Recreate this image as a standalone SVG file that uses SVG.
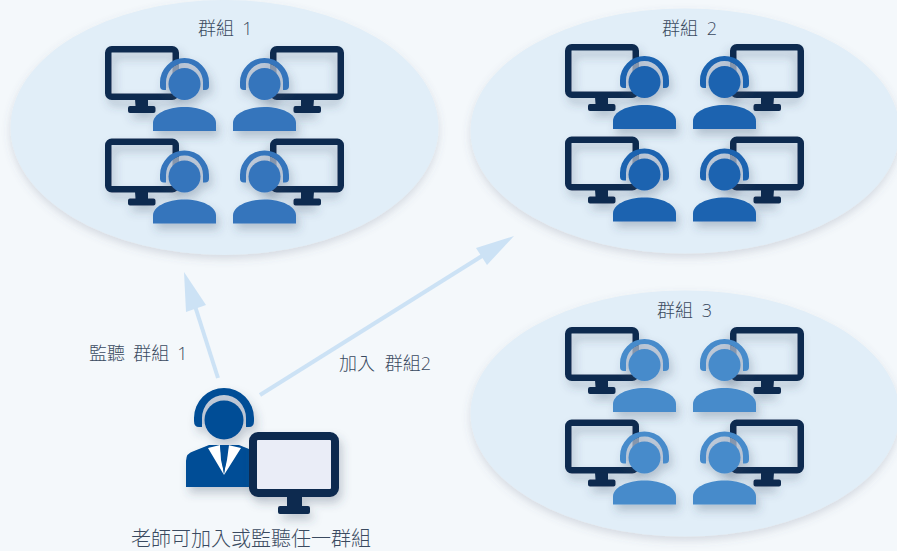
<svg xmlns="http://www.w3.org/2000/svg" width="897" height="551" viewBox="0 0 897 551">
<style>
text{font-family:"Open Sans","Noto Sans CJK TC","Noto Sans CJK SC",sans-serif;font-size:18px;font-weight:300;fill:#3a4a60;word-spacing:3.500px}
.g{fill:#e1eef8;filter:url(#se)}
.mon{fill:none;stroke:#0f2a4f;stroke-width:6.500}
.monf{fill:#0f2a4f}
.arrow{stroke:#cce2f5;stroke-width:4;fill:none}
.head{fill:#cce2f5}
.gap{fill:#b4bfd0;fill-opacity:.7}
</style>
<defs>
<filter id="se" x="-10%" y="-10%" width="120%" height="125%"><feDropShadow dx="0" dy="4" stdDeviation="4" flood-color="#5a6478" flood-opacity=".2"/></filter>
<filter id="s" x="-30%" y="-30%" width="170%" height="170%"><feDropShadow dx="3" dy="6" stdDeviation="5" flood-color="#3c4a66" flood-opacity=".28"/></filter>
<g id="monitor">
<rect class="mon" x="108.250" y="49.250" width="67.500" height="47.500" rx="3.500"/>
<path class="monf" d="M135 99h13v7h5.500q2 0 2 2v3q0 2-2 2h-23.500q-2 0-2-2v-3q0-2 2-2h5.500z"/>
</g>
<g id="person">
<path class="gap" d="M165 88v-5.500a19.500 19.500 0 0 1 39 0v5.500z"/>
<path d="M160 84v-1.500a24.500 24.500 0 0 1 49 0v3.500q0 4-4 4h-2v-7.500a18.500 19.500 0 0 0-37 0v7.500h-2q-4 0-4-4z"/>
<circle cx="184.500" cy="84" r="16"/>
<path d="M153 131v-8c0-9 14-16 31.500-16s31.500 7 31.500 16v8z"/>
</g>
<g id="unit">
<use href="#monitor" filter="url(#s)"/>
<use href="#monitor" transform="matrix(-1 0 0 1 449 0)" filter="url(#s)"/>
<use href="#person" filter="url(#s)"/>
<use href="#person" transform="translate(80 0)" filter="url(#s)"/>
</g>
</defs>
<rect width="897" height="551" fill="#f4f8fb"/>

<g id="group-1">
<ellipse class="g" cx="224.500" cy="127.500" rx="214" ry="127.500"/>
<text x="198" y="35">群組 1</text>
<use href="#unit" fill="#3474bc"/>
<use href="#unit" fill="#3474bc" y="92.500"/>
</g>
<g id="group-2">
<ellipse class="g" cx="685" cy="131" rx="214.500" ry="122.500"/>
<text x="662" y="35" style="word-spacing:4px">群組 2</text>
<use href="#unit" fill="#1b63b0" x="460" y="-2"/>
<use href="#unit" fill="#1b63b0" x="460" y="90.500"/>
</g>
<g id="group-3">
<ellipse class="g" cx="685" cy="413.500" rx="214.500" ry="123"/>
<text x="657" y="317" style="word-spacing:4px">群組 3</text>
<use href="#unit" fill="#478bcb" x="460" y="281"/>
<use href="#unit" fill="#478bcb" x="460" y="373.500"/>
</g>

<g id="connectors">
<path class="arrow" d="M218 378L195 306"/>
<polygon class="head" points="184,272 206,305 186,312"/>
<path class="arrow" d="M260 395L482 256"/>
<polygon class="head" points="514,236 476,248 487,265"/>
</g>
<g id="labels">
<text x="89" y="360">監聽 群組 1</text>
<text x="339" y="370" style="word-spacing:5px">加入 群組2</text>
</g>

<g id="teacher">
<g fill="#024e96" filter="url(#s)">
<path class="gap" d="M201 424v-6a23 23 0 0 1 46 0v6z"/>
<path d="M194 420v-2a30 30 0 0 1 60 0v3q0 6-5 6h-3v-9a22 23 0 0 0-44 0v9h-3q-5 0-5-6z"/>
<circle cx="224" cy="420" r="19.500"/>
<path d="M186 487v-26q0-8 8-10l15-6h30l15 6q8 2 8 10v26z"/>
<path fill="#fff" d="M208 448l12-3 4 30 4-30 13 3-17 27z"/>
<path d="M220 445h9l-2 15 -3 13 -3-13z"/>
</g>
<g filter="url(#s)">
<rect x="253" y="436" width="82" height="57" rx="5" fill="#eaedf7" stroke="#0f2a4f" stroke-width="8"/>
<path fill="#0f2a4f" d="M287 497h15v9h6q2 0 2 2v4q0 2-2 2h-28q-2 0-2-2v-4q0-2 2-2h7z"/>
</g>
<text x="131" y="546" style="font-size:20px">老師可加入或監聽任一群組</text>
</g>
</svg>
